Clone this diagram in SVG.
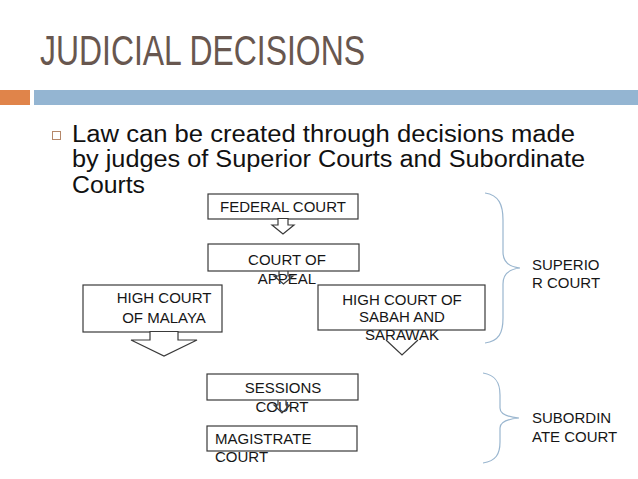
<svg xmlns="http://www.w3.org/2000/svg" width="638" height="479" viewBox="0 0 638 479">
<style>
.box{fill:#fff;stroke:#3a3a3a;stroke-width:1.2}
.t{font-family:"Liberation Sans",Arial,sans-serif;font-size:15px;fill:#161616}
.arr{fill:#fff;stroke:#3a3a3a;stroke-width:1.2;stroke-linejoin:miter}
.arrn{fill:none;stroke:#3a3a3a;stroke-width:1.2}
.brace{fill:none;stroke:#9ab6cf;stroke-width:1.2}
.body{font-family:"Liberation Sans",Arial,sans-serif;font-size:23px;fill:#111}
</style>
<rect width="638" height="479" fill="#fff"/>
<g id="title">
<text x="40" y="65" font-family="Liberation Sans,Arial,sans-serif" font-size="42" fill="#68574f" textLength="325" lengthAdjust="spacingAndGlyphs">JUDICIAL DECISIONS</text>
<rect x="0" y="90" width="30" height="15" fill="#e0844a"/>
<rect x="34" y="90" width="604" height="15" fill="#94b5d2"/>
</g>
<g id="bullet">
<rect x="52.5" y="131.5" width="8" height="8" fill="#fff" stroke="#b5886a" stroke-width="1"/>
<text class="body" x="72" y="142" textLength="503" lengthAdjust="spacingAndGlyphs">Law can be created through decisions made</text>
<text class="body" x="72" y="167" textLength="513" lengthAdjust="spacingAndGlyphs">by judges of Superior Courts and Subordinate</text>
<text class="body" x="72" y="193" textLength="73" lengthAdjust="spacingAndGlyphs">Courts</text>
</g>
<g id="connectors">
<path class="brace" d="M485,193 C499,195 503,205 503,220 L503,252 C503,262 510,267 520,268 C510,269 503,274 503,284 L503,318 C503,333 499,341 485,343"/>
<path class="brace" d="M483,373 C496,375 500,383 500,395 L500,408 C500,414 508,417 519,418 C508,419 500,422 500,428 L500,442 C500,454 496,461 483,463"/>
</g>
<g id="federal-court">
<rect class="box" x="208" y="194" width="150" height="25"/>
<text class="t" x="283" y="212" text-anchor="middle">FEDERAL COURT</text>
<polygon class="arr" points="278,218.5 278,225 272,225 283,234 294,225 288,225 288,218.5"/>
</g>
<g id="court-of-appeal">
<rect class="box" x="208" y="244" width="151" height="27"/>
<text class="t" x="287" y="265" text-anchor="middle">COURT OF</text>
<text class="t" x="287" y="284" text-anchor="middle">APPEAL</text>
<polyline class="arrn" points="279,271 279,276 274,276 283.5,284 293,276 288,276 288,271"/>
</g>
<g id="high-court-malaya">
<rect class="box" x="83" y="285" width="139" height="47"/>
<text class="t" x="164" y="303" text-anchor="middle">HIGH COURT</text>
<text class="t" x="164" y="323" text-anchor="middle">OF MALAYA</text>
<polygon class="arr" points="150,331.5 150,340 131,340 164,356 197,340 178,340 178,331.5"/>
</g>
<g id="high-court-sabah-sarawak">
<rect class="box" x="318" y="285" width="167" height="45"/>
<text class="t" x="402" y="305" text-anchor="middle">HIGH COURT OF</text>
<text class="t" x="402" y="322" text-anchor="middle">SABAH AND</text>
<text class="t" x="402" y="340" text-anchor="middle">SARAWAK</text>
<polyline class="arrn" points="386,340 402,355 418,340"/>
</g>
<g id="sessions-court">
<rect class="box" x="207" y="374" width="151" height="26"/>
<text class="t" x="283" y="393" text-anchor="middle">SESSIONS</text>
<text class="t" x="282" y="412" text-anchor="middle">COURT</text>
<polyline class="arrn" points="278,400 278,405 274,405 282,413 290,405 286,405 286,400"/>
</g>
<g id="magistrate-court">
<rect class="box" x="207" y="426" width="150" height="25"/>
<text class="t" x="215" y="444">MAGISTRATE</text>
<text class="t" x="215" y="462">COURT</text>
</g>
<g id="superior-court">
<text class="t" x="532" y="270">SUPERIO</text>
<text class="t" x="532" y="288">R COURT</text>
</g>
<g id="subordinate-court">
<text class="t" x="532" y="423">SUBORDIN</text>
<text class="t" x="532" y="442">ATE COURT</text>
</g>
</svg>
